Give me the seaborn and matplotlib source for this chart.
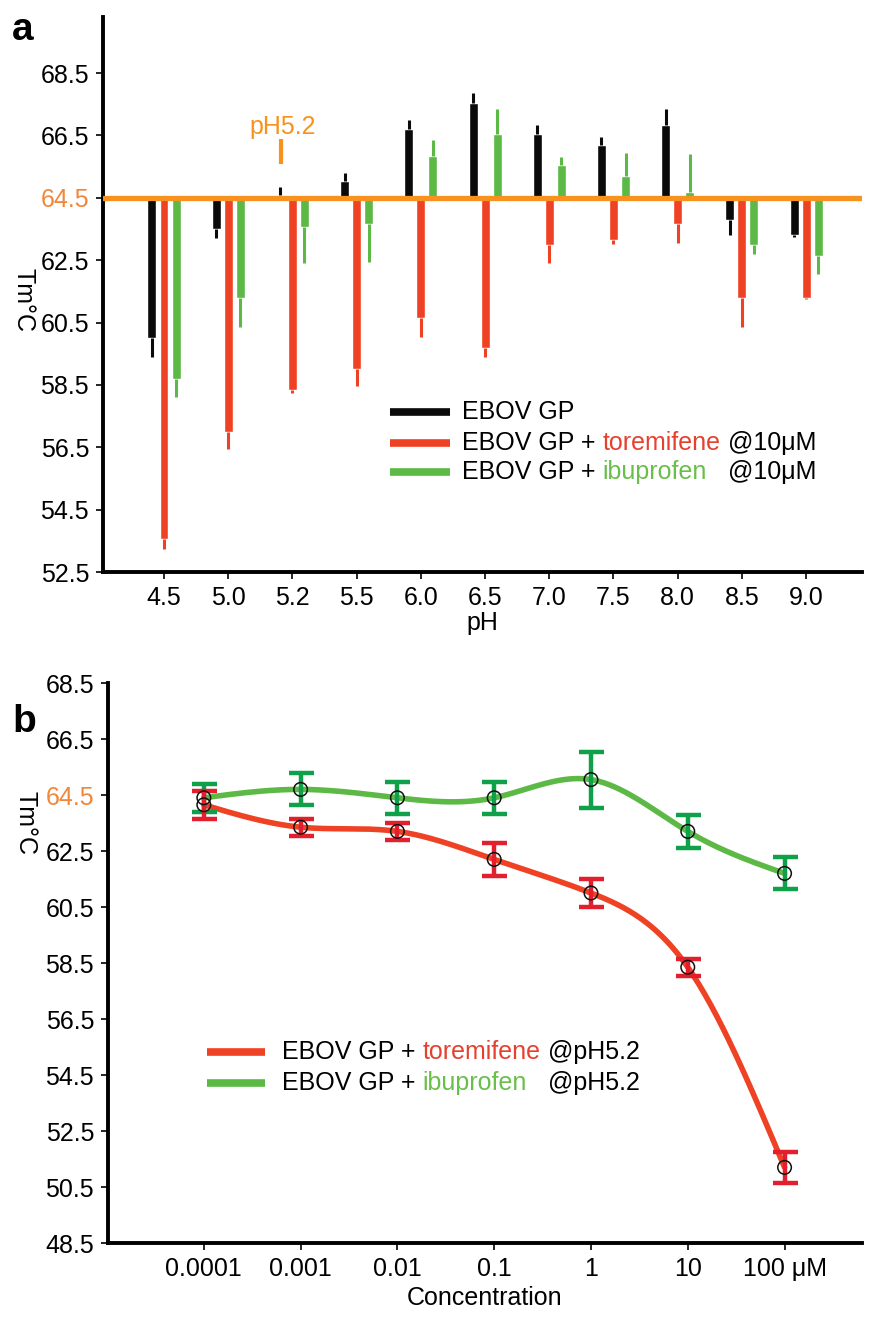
import numpy as np
import pandas as pd
import matplotlib
matplotlib.use("Agg")
import matplotlib.pyplot as plt
from matplotlib.lines import Line2D
import seaborn as sns

# ---- panel a data : Tm (deg C) per pH ----
ph = ["4.5", "5.0", "5.2", "5.5", "6.0", "6.5", "7.0", "7.5", "8.0", "8.5", "9.0"]
gp = [60.0, 63.5, 64.6, 65.05, 66.7, 67.55, 66.55, 66.2, 66.85, 63.8, 63.3]
gp_err = [0.6, 0.3, 0.25, 0.25, 0.3, 0.3, 0.3, 0.25, 0.5, 0.5, 0.06]
tor = [53.55, 57.0, 58.35, 59.0, 60.65, 59.7, 63.0, 63.15, 63.65, 61.3, 61.3]
tor_err = [0.3, 0.55, 0.1, 0.55, 0.6, 0.3, 0.6, 0.12, 0.6, 0.95, 0.06]
ibu = [58.7, 61.3, 63.55, 63.65, 65.85, 66.55, 65.55, 65.2, 64.7, 63.0, 62.65]
ibu_err = [0.6, 0.95, 1.15, 1.2, 0.5, 0.8, 0.25, 0.75, 1.2, 0.3, 0.6]
baseline = 64.5

# ---- panel b data : Tm vs drug concentration at pH 5.2 ----
conc = ["0.0001", "0.001", "0.01", "0.1", "1", "10", "100 μM"]
tor_c = [64.15, 63.35, 63.2, 62.2, 61.0, 58.35, 51.2]
tor_c_err = [0.5, 0.3, 0.3, 0.6, 0.5, 0.3, 0.55]
ibu_c = [64.4, 64.7, 64.4, 64.4, 65.05, 63.2, 61.7]
ibu_c_err = [0.5, 0.57, 0.57, 0.57, 1.0, 0.6, 0.57]

BLACK = "#0a0a0a"
RED = "#ef4123"
GREEN = "#5cb946"
ORANGE = "#f7921e"
ERR_RED = "#e31e2d"
ERR_GREEN = "#0fa04a"

sns.set_style("ticks")
plt.rcParams["font.family"] = ["Liberation Sans", "DejaVu Sans"]
plt.rcParams["font.size"] = 18
plt.rcParams["text.color"] = "black"
plt.rcParams["axes.labelcolor"] = "black"

W, H = 876, 1317
fig = plt.figure(figsize=(W / 100, H / 100), dpi=100)


def px(x, y):
    return x / W, 1 - y / H


axa = fig.add_axes([103 / W, 1 - 572 / H, 759 / W, 555 / H])
axb = fig.add_axes([108 / W, 1 - 1243 / H, 754 / W, 560 / H])

# ---------------- panel a ----------------
df = pd.DataFrame({"pH": ph, "gp": gp, "gp_err": gp_err, "tor": tor, "tor_err": tor_err,
                   "ibu": ibu, "ibu_err": ibu_err})
xpos = np.arange(len(ph))
for col, off, color in [("gp", -0.187, BLACK), ("tor", 0.0, RED), ("ibu", 0.187, GREEN)]:
    vals = df[col].to_numpy()
    errs = df[col + "_err"].to_numpy()
    axa.bar(xpos + off, vals - baseline, bottom=baseline, width=0.14, color=color, zorder=2)
    lo = np.where(vals < baseline, errs, 0)
    hi = np.where(vals >= baseline, errs, 0)
    axa.errorbar(xpos + off, vals, yerr=[lo, hi], fmt="none", ecolor=color,
                 elinewidth=2.2, capsize=0, zorder=2)

axa.axhline(baseline, color=ORANGE, lw=3.8, zorder=3)
axa.vlines(1.82, 65.6, 66.4, color=ORANGE, lw=3)
axa.text(1.85, 66.78, "pH5.2", color=ORANGE, ha="center", va="center", fontsize=18)

axa.set_xlim(-0.95, 10.87)
axa.set_ylim(52.5, 70.3)
axa.set_yticks(np.arange(52.5, 68.6, 2))
axa.set_yticklabels([f"{v:.1f}" for v in np.arange(52.5, 68.6, 2)])
axa.set_xticks(xpos)
axa.set_xticklabels(ph)
axa.set_xlabel("pH", labelpad=1)
axa.set_ylabel("Tm°C", rotation=270, va="center")
axa.yaxis.set_label_coords(-0.105, 0.49)

# ---------------- panel b ----------------
def smooth(x, y, n=300):
    # natural cubic spline, only to draw the connecting curve
    x = np.asarray(x, float)
    y = np.asarray(y, float)
    k = len(x)
    h = np.diff(x)
    A = np.zeros((k, k))
    r = np.zeros(k)
    A[0, 0] = A[-1, -1] = 1
    for i in range(1, k - 1):
        A[i, i - 1] = h[i - 1]
        A[i, i] = 2 * (h[i - 1] + h[i])
        A[i, i + 1] = h[i]
        r[i] = 6 * ((y[i + 1] - y[i]) / h[i] - (y[i] - y[i - 1]) / h[i - 1])
    m = np.linalg.solve(A, r)
    xs = np.linspace(x[0], x[-1], n)
    j = np.clip(np.searchsorted(x, xs) - 1, 0, k - 2)
    hj = h[j]
    a = x[j + 1] - xs
    b = xs - x[j]
    ys = (m[j] * a ** 3 + m[j + 1] * b ** 3) / (6 * hj) \
        + (y[j] / hj - m[j] * hj / 6) * a + (y[j + 1] / hj - m[j + 1] * hj / 6) * b
    return xs, ys


cx = np.arange(len(conc))
dfb = pd.DataFrame({"x": np.concatenate([cx, cx]),
                    "Tm": tor_c + ibu_c,
                    "err": tor_c_err + ibu_c_err,
                    "drug": ["toremifene"] * len(conc) + ["ibuprofen"] * len(conc)})

for drug, lc, ec in [("ibuprofen", GREEN, ERR_GREEN), ("toremifene", RED, ERR_RED)]:
    d = dfb[dfb["drug"] == drug]
    xs, ys = smooth(d["x"], d["Tm"])
    axb.plot(xs, ys, color=lc, lw=4, zorder=2, solid_capstyle="round")
    axb.errorbar(d["x"], d["Tm"], yerr=d["err"], fmt="none", ecolor=ec,
                 elinewidth=3.2, capsize=9, capthick=3.2, zorder=3)

sns.scatterplot(data=dfb, x="x", y="Tm", ax=axb, s=95, facecolor="none",
                edgecolor="#111111", linewidth=1.1, zorder=4, legend=False)

axb.set_xlim(-0.99, 6.8)
axb.set_ylim(48.5, 68.5)
axb.set_yticks(np.arange(48.5, 68.6, 2))
axb.set_yticklabels([f"{v:.1f}" for v in np.arange(48.5, 68.6, 2)])
axb.set_xticks(cx)
axb.set_xticklabels(conc)
axb.set_xlabel("Concentration", labelpad=4)
axb.set_ylabel("Tm°C", rotation=270, va="center")
axb.yaxis.set_label_coords(-0.11, 0.75)

for ax in (axa, axb):
    sns.despine(ax=ax)
    for s in ("left", "bottom"):
        ax.spines[s].set_linewidth(2.8)
        ax.spines[s].set_color("black")
    ax.tick_params(axis="both", direction="out", length=5, width=1.2, pad=5,
                   colors="black", labelsize=18)
    ax.set_facecolor("white")

# orange 64.5 tick label in both panels
axa.get_yticklabels()[6].set_color("#f0873a")
axb.get_yticklabels()[8].set_color("#f0873a")

# ---------------- legends (hand-built for multi-coloured words) ----------------
def legend_row(x0, x1, xt, xtail, y, lcolor, word, wcolor, tail):
    fig.add_artist(Line2D([x0 / W, x1 / W], [1 - y / H, 1 - y / H], color=lcolor,
                          lw=5.5, solid_capstyle="butt", transform=fig.transFigure))
    t = fig.text(*px(xt, y), "EBOV GP +" if word else "EBOV GP", va="center", ha="left",
                 fontsize=18)
    if word:
        fig.canvas.draw()
        bb = t.get_window_extent()
        fig.text(bb.x1 / W + 7 / W, 1 - y / H, word, color=wcolor, va="center",
                 ha="left", fontsize=18)
        fig.text(*px(xtail, y), tail, va="center", ha="left", fontsize=18)


legend_row(390, 450, 462, 728, 412, BLACK, "", None, "")
legend_row(390, 450, 462, 728, 443, RED, "toremifene", "#e5412f", "@10μM")
legend_row(390, 450, 462, 728, 472, GREEN, "ibuprofen", "#6abf4b", "@10μM")
legend_row(207, 265, 282, 548, 1052, RED, "toremifene", "#e5412f", "@pH5.2")
legend_row(207, 265, 282, 548, 1083, GREEN, "ibuprofen", "#6abf4b", "@pH5.2")

fig.text(*px(12, 30), "a", fontsize=28, fontweight="bold", va="center")
fig.text(*px(12, 722), "b", fontsize=28, fontweight="bold", va="center")

fig.savefig("out.png", dpi=100)
